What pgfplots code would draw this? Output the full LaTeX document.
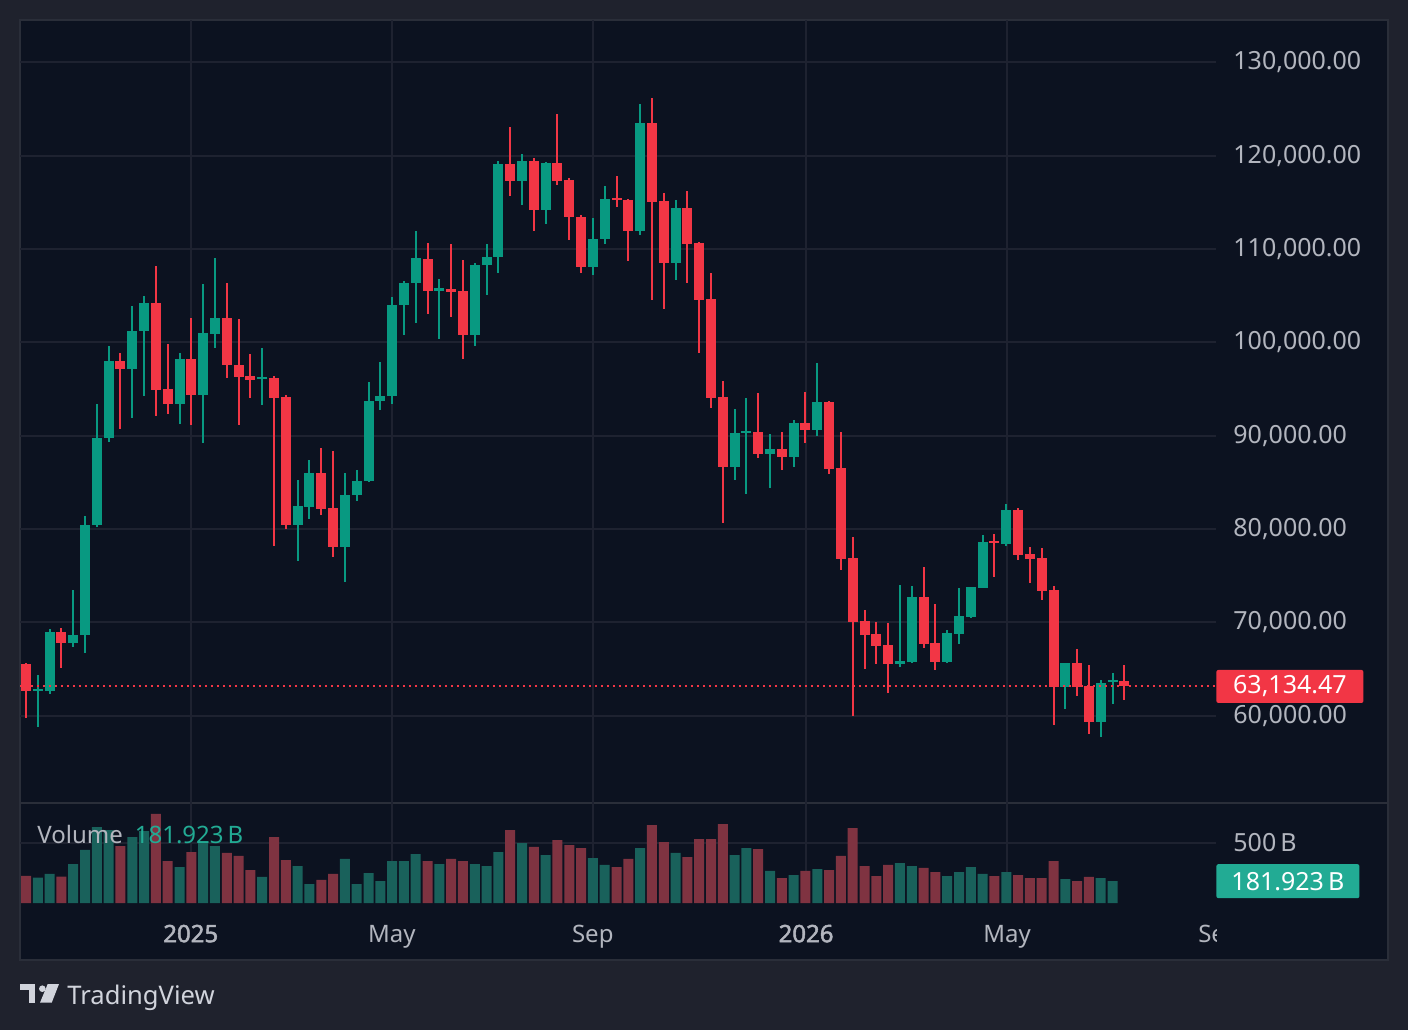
\documentclass[border=0pt]{standalone}
\usepackage{pgfplots}
\pgfplotsset{compat=1.18}
\usepackage{pgfplotstable}
\usepackage{fontspec}
\setmainfont{Noto Sans}
\newfontfamily\boldnum[FakeBold=2]{Noto Sans}
\definecolor{outerbg}{HTML}{1F222D}
\definecolor{innerbg}{HTML}{0C1220}
\definecolor{framec}{HTML}{2A2E39}
\definecolor{gridc}{HTML}{1E2230}
\definecolor{lbl}{HTML}{B2B5BE}
\definecolor{upc}{HTML}{089981}
\definecolor{dnc}{HTML}{F23645}
\definecolor{vupc}{HTML}{19615B}
\definecolor{vdnc}{HTML}{7F3341}
\definecolor{vlbl}{HTML}{22AB94}
\definecolor{tvtext}{HTML}{D1D4DC}

\pgfplotstableread{
i o h l c
1 62680 64360 58820 62890
2 62680 69290 62360 68970
4 67820 73470 67400 68650
5 68650 81400 66750 80440
6 80440 93400 80230 89760
7 89760 99620 89340 98020
9 97160 103910 91910 101230
10 101230 104980 94270 104230
13 93410 98870 91260 98230
15 94370 106270 89230 101020
16 100910 109060 99410 102630
20 96090 99410 93300 96300
23 80440 85260 76580 82480
24 82370 87410 81080 86010
27 78110 86010 74360 83660
28 83660 86340 83040 85160
29 85160 95770 85080 93730
30 93730 97910 92800 94270
31 94270 104880 93440 104020
32 104020 106590 100840 106380
33 106380 111950 102120 109060
35 105550 106800 100410 105840
38 100840 108520 99660 108310
39 108310 110560 105120 109160
40 109160 119450 107480 119130
42 117240 120200 114770 119450
44 114130 119350 112730 119240
48 108120 113340 107270 111090
49 111090 116770 110560 115380
52 111950 125560 111520 123530
55 108520 115270 106700 114420
60 86660 92870 85260 90300
61 90300 94050 83760 90510
63 88050 90190 84410 88590
65 87730 91690 86660 91370
67 90620 97800 89980 93620
74 65540 74010 65220 65860
75 65760 73900 65700 72720
78 65760 69190 65650 68860
79 68760 73690 67690 70690
80 70580 73800 70470 73790
81 73690 79370 73690 78620
83 78400 82690 78190 82050
88 63080 65650 60720 65650
91 59330 63830 57720 63500
92 63610 64580 61250 63830
}\candUp

\pgfplotstableread{
i o h l c
0 65540 65600 59790 62680
3 68970 69400 65150 67820
8 98020 98870 90730 97160
11 104230 108200 92120 94910
12 95020 99840 92340 93410
14 98230 102630 91160 94370
17 102630 106380 96200 97590
18 97590 102520 91160 96300
19 96410 98770 94050 95980
21 96200 96410 78190 94050
22 94160 94370 80010 80440
25 86010 88690 81540 82190
26 82290 88370 77040 78110
34 108950 110660 103090 105550
36 105730 110560 102770 105440
37 105520 108840 98260 100840
41 119130 123100 115730 117240
43 119450 119780 111980 114130
45 119240 124490 116910 117340
46 117420 117630 111020 113380
47 113450 113670 107480 108120
50 115520 117850 114450 115270
51 115270 115380 108740 111950
53 123530 126210 104560 115060
54 115170 116020 103590 108520
56 114420 116240 106380 110560
57 110660 110770 98880 104560
58 104660 107450 92980 94050
59 94160 95870 80650 86660
62 90410 94590 87620 88050
64 88590 90410 86340 87730
66 91370 94690 89230 90620
68 93620 93700 85910 86440
69 86550 90410 75620 76800
70 76900 79150 59970 70040
71 70150 71330 65010 68650
72 68760 70040 65540 67470
73 67580 69940 62430 65540
76 72720 75940 67260 67690
77 67790 71970 64900 65760
82 78720 79470 74870 78510
84 82050 82260 76690 77220
85 77330 78080 74220 76800
86 76900 77970 72400 73370
87 73470 73900 59000 63080
89 65650 67150 62110 63080
90 63180 65430 58040 59330
93 63720 65430 61680 63134.47
}\candDn

\pgfplotstableread{
i v
1 211
2 242
4 325
5 442
6 633
7 608
9 550
10 600
13 300
15 511
16 475
20 217
23 308
24 158
27 367
28 158
29 250
30 183
31 350
32 350
33 408
35 325
38 325
39 308
40 425
42 500
44 400
48 375
49 317
52 458
55 417
60 400
61 458
63 267
65 233
67 283
74 333
75 308
78 225
79 258
80 300
81 242
83 258
88 200
91 208
92 181.923
}\volUp

\pgfplotstableread{
i v
0 227
3 219
8 475
11 742
12 350
14 425
17 417
18 392
19 275
21 550
22 358
25 192
26 242
34 350
36 367
37 350
41 608
43 467
45 525
46 483
47 458
50 300
51 367
53 650
54 508
56 383
57 533
58 533
59 658
62 450
64 208
66 267
68 275
69 392
70 625
71 308
72 225
73 317
76 292
77 258
82 225
84 233
85 208
86 208
87 350
89 183
90 217
}\volDn

\begin{document}
\begin{tikzpicture}[x=0.5pt,y=0.5pt]
\useasboundingbox (0,0) rectangle (1408,1030);
\fill[outerbg] (0,0) rectangle (1408,1030);
\fill[innerbg] (20,70) rectangle (1388,1010);
\draw[framec, line width=1pt] (20,70) rectangle (1388,1010);
\draw[framec, line width=1pt] (20,227) -- (1388,227);

\begin{axis}[
  at={(10pt,113.5pt)}, anchor=south west,
  scale only axis, width=598pt, height=391.5pt,
  xmin=-0.508, xmax=100.76, ymin=50647, ymax=134537,
  axis line style={draw=none},
  major tick length=0pt,
  xtick={13.95,30.97,47.99,66.05,83.07}, xticklabels={},
  ytick={60000,70000,80000,90000,100000,110000,120000,130000},
  yticklabels={{60,000.00},{70,000.00},{80,000.00},{90,000.00},{100,000.00},{110,000.00},{120,000.00},{130,000.00}},
  scaled y ticks=false,
  yticklabel pos=right,
  yticklabel style={anchor=west, inner sep=0pt, xshift=8.5pt, font=\fontsize{12.5}{14}\selectfont, text=lbl},
  xmajorgrids, ymajorgrids,
  grid style={draw=gridc, line width=1pt},
]
% wicks
\addplot[forget plot, draw=none, mark=none, error bars/.cd, y dir=both, y explicit, error mark=none,
  error bar style={draw=upc, line width=1pt}]
  table[x=i, y expr={(\thisrow{h}+\thisrow{l})/2}, y error expr={(\thisrow{h}-\thisrow{l})/2}] {\candUp};
\addplot[forget plot, draw=none, mark=none, error bars/.cd, y dir=both, y explicit, error mark=none,
  error bar style={draw=dnc, line width=1pt}]
  table[x=i, y expr={(\thisrow{h}+\thisrow{l})/2}, y error expr={(\thisrow{h}-\thisrow{l})/2}] {\candDn};
% bodies
\addplot[forget plot, draw=none, mark=none, error bars/.cd, y dir=both, y explicit, error mark=none,
  error bar style={draw=upc, line width=5pt}]
  table[x=i, y expr={(\thisrow{o}+\thisrow{c})/2}, y error expr={max(abs(\thisrow{c}-\thisrow{o})/2,100)}] {\candUp};
\addplot[forget plot, draw=none, mark=none, error bars/.cd, y dir=both, y explicit, error mark=none,
  error bar style={draw=dnc, line width=5pt}]
  table[x=i, y expr={(\thisrow{o}+\thisrow{c})/2}, y error expr={max(abs(\thisrow{c}-\thisrow{o})/2,100)}] {\candDn};
% last price line
\addplot[forget plot, dnc, line width=1pt, dash pattern=on 1pt off 2pt, mark=none]
  coordinates {(-0.6,63134.47) (100.9,63134.47)};
\coordinate (pl) at (axis cs:100.76,63134.47);
\end{axis}

\begin{axis}[
  at={(10pt,63.5pt)}, anchor=south west,
  scale only axis, width=598pt, height=50pt,
  xmin=-0.508, xmax=100.76, ymin=0, ymax=833.3,
  axis line style={draw=none},
  major tick length=0pt,
  xtick={13.95,30.97,47.99,66.05,83.07},
  xticklabels={{\boldnum 2025},May,Sep,{\boldnum 2026},May},
  xticklabel style={anchor=base, yshift=-19.6pt, inner sep=0pt, font=\fontsize{12}{14}\selectfont, text=lbl},
  ytick={500}, yticklabels={500\,B},
  yticklabel pos=right,
  yticklabel style={anchor=west, inner sep=0pt, xshift=8.5pt, font=\fontsize{12.5}{14}\selectfont, text=lbl},
  xmajorgrids, ymajorgrids,
  grid style={draw=gridc, line width=1pt},
  ybar, bar width=5pt, bar shift=0pt,
]
\addplot[fill=vupc, draw=none] table[x=i, y=v] {\volUp};
\addplot[fill=vdnc, draw=none] table[x=i, y=v] {\volDn};
\coordinate (vl) at (axis cs:100.76,181.923);
\end{axis}

\node[fill=dnc, text=white, anchor=west, minimum width=73.5pt, minimum height=16.5pt, inner sep=0pt,
  rounded corners=1pt, font=\fontsize{12.5}{14}\selectfont] at (pl) {63,134.47};
\node[fill=vlbl, text=white, anchor=west, minimum width=71.5pt, minimum height=17pt, inner sep=0pt,
  rounded corners=1pt, font=\fontsize{12.5}{14}\selectfont] at (vl) {181.923\,B};

\node[anchor=west, inner sep=0pt, font=\fontsize{12}{14}\selectfont] at (37,195)
  {\textcolor{lbl}{Volume}\hspace{6pt}\textcolor{vlbl}{181.923\,B}};

\begin{scope}
\clip (20,70) rectangle (1216,127);
\node[anchor=base, inner sep=0pt, text=lbl, font=\fontsize{12}{14}\selectfont] at (1219,87.7) {Sep};
\end{scope}

% TradingView logo
\fill[tvtext] (20,46) rectangle (35,40);
\fill[tvtext] (29.3,46) rectangle (35,27.3);
\fill[tvtext] (42.3,41.3) circle (3.3);
\fill[tvtext] (47.7,46) -- (59,46) -- (51.7,27.3) -- (40,27.3) -- cycle;
\node[anchor=base west, inner sep=0pt, text=tvtext, font=\fontsize{12.8}{15}\selectfont] at (67,25.7) {TradingView};
\end{tikzpicture}
\end{document}
